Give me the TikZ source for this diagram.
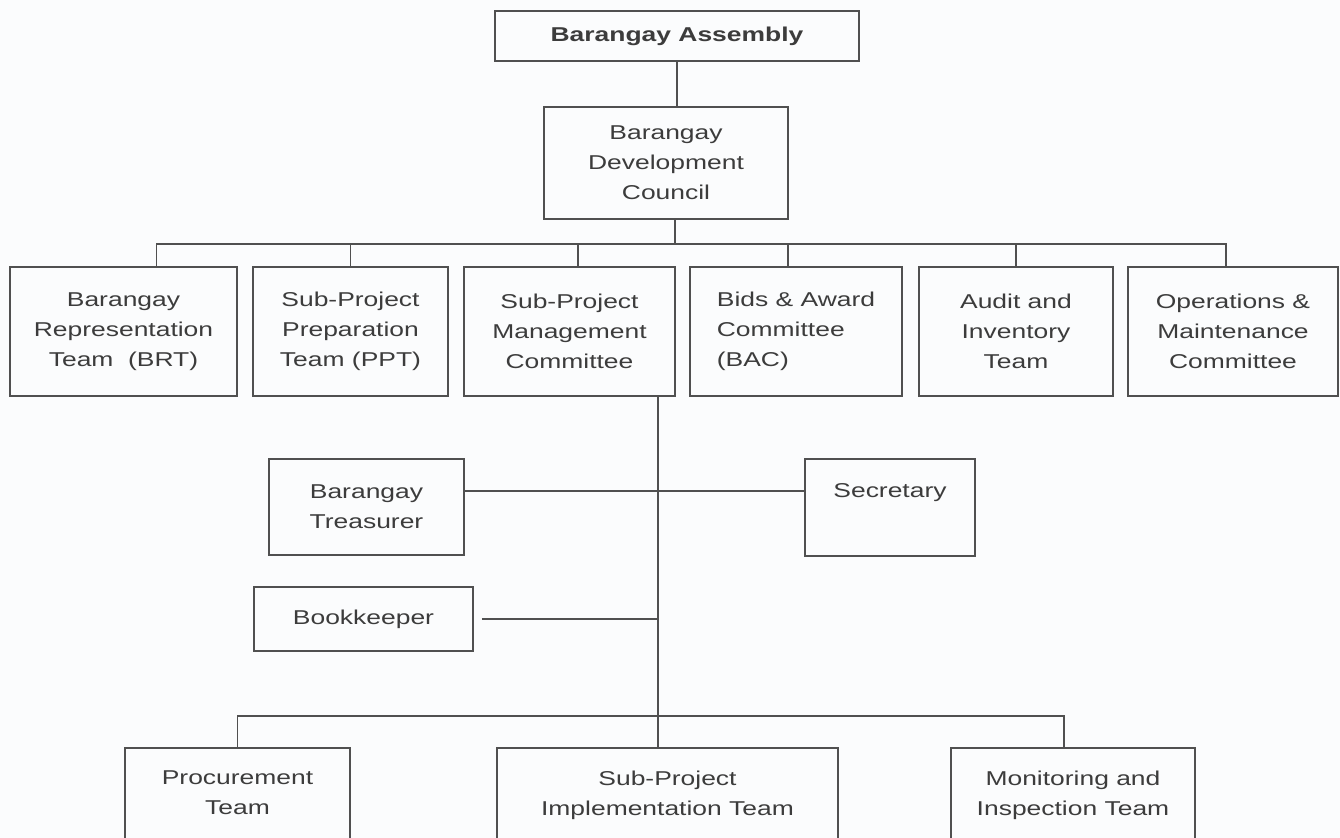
\documentclass[tikz,border=0pt]{standalone}
\usepackage{fontspec}
\setmainfont[FakeStretch=1.32]{Liberation Sans}
\definecolor{ink}{HTML}{3C3C3C}
\definecolor{rule}{HTML}{505050}
\definecolor{paper}{HTML}{FBFCFD}
\tikzset{
  unit/.style={draw=rule, line width=1.1pt, fill=paper, inner sep=0pt, align=center, text=ink},
  link/.style={draw=rule, line width=0.8pt},
}
\newcommand{\orgfont}{\fontsize{11.4}{17}\selectfont}

\begin{document}
\begin{tikzpicture}[x=0.02cm,y=-0.02cm,font=\orgfont]
        \useasboundingbox (0,0) rectangle (1340,838);
        \fill[paper] (0,0) rectangle (1340,838);
        \clip (0,0) rectangle (1340,838);

        % assembly and council
        \node [unit,minimum width=7.28cm,minimum height=1cm](asm)at(677,36){\textbf{Barangay Assembly}};
        \node [unit,minimum width=4.88cm,minimum height=2.24cm](bdc)at(666,163){Barangay\\Development\\Council};

        % committees
        \node [unit,minimum width=4.54cm,minimum height=2.58cm](brt)at(123.5,331.5){Barangay\\Representation\\Team\ \ (BRT)};
        \node [unit,minimum width=3.9cm,minimum height=2.58cm](ppt)at(350.5,331.5){Sub-Project\\Preparation\\Team (PPT)};
        \node [unit,minimum width=4.22cm,minimum height=2.58cm](spmc)at(569.5,331.5){Sub-Project\\Management\\Committee};
        \node [unit,align=left,minimum width=4.24cm,minimum height=2.58cm](bac)at(796,331.5){Bids \& Award\\Committee\\(BAC)};
        \node [unit,minimum width=3.88cm,minimum height=2.58cm](ait)at(1016,331.5){Audit and\\Inventory\\Team};
        \node [unit,minimum width=4.2cm,minimum height=2.58cm](omc)at(1233,331.5){Operations \&\\Maintenance\\Committee};

        % staff of the management committee
        \node [unit,minimum width=3.9cm,minimum height=1.92cm](trs)at(366.5,507){Barangay\\Treasurer};
        \node [unit,minimum width=3.4cm,minimum height=1.94cm](sec)at(890,507.5){};
        \node [unit,minimum width=4.38cm,minimum height=1.28cm](bkp)at(363.5,619){Bookkeeper};
        \node [anchor=north,text=ink](sectxt)at([yshift=-0.38cm]sec.north){Secretary};

        % teams
        \node [unit,anchor=north,minimum width=4.5cm,minimum height=2.4cm](prc)at(237.5,747){};
        \node [unit,anchor=north,minimum width=6.82cm,minimum height=2.4cm](spit)at(667.5,747){};
        \node [unit,anchor=north,minimum width=4.88cm,minimum height=2.4cm](mit)at(1073,747){};
        \node [anchor=north,align=center,text=ink](prctxt)at([yshift=-0.36cm]prc.north){Procurement\\Team};
        \node [anchor=north,align=center,text=ink](spittxt)at([yshift=-0.36cm]spit.north){Sub-Project\\Implementation Team};
        \node [anchor=north,align=center,text=ink](mittxt)at([yshift=-0.36cm]mit.north){Monitoring and\\Inspection Team};

        \coordinate (hub1) at (675,244);
        \coordinate (stem) at ([xshift=1.77cm]spmc.south);
        \coordinate (hub2) at (658,716);

        \draw [link] (asm.south) -- (asm.south |- bdc.north);
        \draw [link] (bdc.south -| hub1) -- (hub1);
        \draw [link] ([xshift=0.66cm]brt.north) |- (hub1) -| ([xshift=-0.14cm]omc.north);
        \draw [link] (ppt.north) |- (hub1);
        \draw [link] ([xshift=0.17cm]spmc.north) |- (hub1);
        \draw [link] ([xshift=-0.16cm]bac.north) |- (hub1);
        \draw [link] (ait.north) |- (hub1);

        \draw [link] (stem) -- (stem |- spit.north);
        \draw [link] ([yshift=0.32cm]trs.east) -- ([yshift=0.32cm]trs.east -| sec.west);
        \draw [link] ([xshift=0.16cm]bkp.east) -- (bkp.east -| stem);
        \draw [link] (prc.north) |- (hub2) -| ([xshift=-0.18cm]mit.north);
    \end{tikzpicture}
\end{document}
